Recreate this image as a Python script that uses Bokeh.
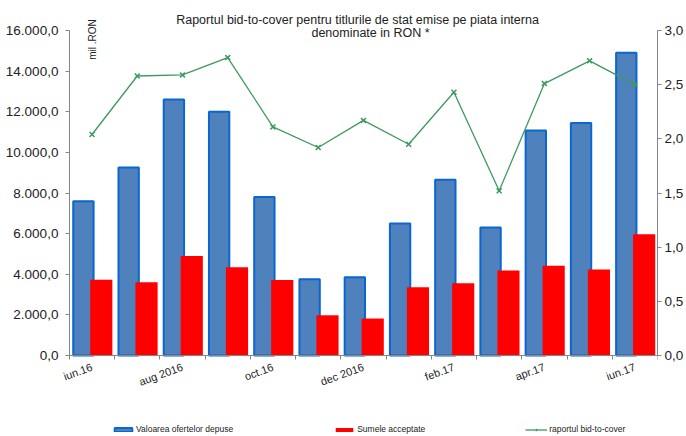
import math
from bokeh.plotting import figure
from bokeh.models import (ColumnDataSource, Range1d, LinearAxis, FixedTicker,
                          Label, Legend, LegendItem)
from bokeh.transform import dodge
from bokeh.embed import file_html
from bokeh.resources import INLINE

# ---- data ----
months = ["iun.16", "iul.16", "aug.16", "sep.16", "oct.16", "nov.16", "dec.16",
          "ian.17", "feb.17", "mar.17", "apr.17", "mai.17", "iun.17"]
offers = [7600, 9250, 12600, 12000, 7800, 3750, 3850,
          6500, 8650, 6300, 11080, 11450, 14900]
accepted = [3730, 3600, 4900, 4350, 3720, 1980, 1820,
            3360, 3560, 4180, 4420, 4230, 5970]
ratio = [2.04, 2.58, 2.59, 2.75, 2.11, 1.92, 2.17,
         1.95, 2.43, 1.52, 2.51, 2.72, 2.50]

x_tick_pos = [0, 2, 4, 6, 8, 10, 12]
x_tick_labels = ["iun.16", "aug 2016", "oct.16", "dec 2016", "feb.17", "apr.17", "iun.17"]
y_ticks = [0, 2000, 4000, 6000, 8000, 10000, 12000, 14000, 16000]
y_tick_labels = ["0,0", "2.000,0", "4.000,0", "6.000,0", "8.000,0", "10.000,0",
                 "12.000,0", "14.000,0", "16.000,0"]
r_ticks = [0, 0.5, 1.0, 1.5, 2.0, 2.5, 3.0]
r_tick_labels = ["0,0", "0,5", "1,0", "1,5", "2,0", "2,5", "3,0"]

title_lines = ["Raportul bid-to-cover pentru titlurile de stat emise pe piata interna",
               "denominate in RON *"]
unit_label = "mil .RON"
legend_labels = ["Valoarea ofertelor depuse", "Sumele acceptate", "raportul bid-to-cover"]

FONT = "Liberation Sans"
AXIS_COLOR = "#868686"
TEXT_COLOR = "#222222"
GREEN = "#3C9A5F"

idx = list(range(len(months)))
source = ColumnDataSource(dict(x=idx, month=months, offers=offers,
                               accepted=accepted, ratio=ratio))

p = figure(width=686, height=436, output_backend="svg", toolbar_location=None,
           x_range=Range1d(-2.0229, len(months) - 0.5),
           y_range=Range1d(-3988, 17428),
           min_border_left=0, min_border_right=28, min_border_top=1,
           min_border_bottom=0, outline_line_color=None,
           background_fill_color="white", border_fill_color="white")
p.extra_y_ranges = {"ratio": Range1d(-0.7477, 3.2677)}
p.xgrid.visible = False
p.ygrid.visible = False

r_blue = p.vbar(x=dodge("x", -0.19), top="offers", width=0.45, source=source,
                fill_color="#4F81BD", line_color="#0A66D0", line_width=2)
r_red = p.vbar(x=dodge("x", 0.205), top="accepted", width=0.49, source=source,
               fill_color="#FF0000", line_color=None)
r_line = p.line("x", "ratio", source=source, y_range_name="ratio",
                line_color=GREEN, line_width=1.3)
r_pts = p.scatter("x", "ratio", source=source, y_range_name="ratio",
                  marker="x", size=7, line_color=GREEN, line_width=1.5)

# x axis, drawn at value 0
xa = p.xaxis[0]
xa.fixed_location = 0
xa.bounds = (-0.5, len(months) - 0.5)
xa.ticker = FixedTicker(ticks=x_tick_pos, minor_ticks=[i - 0.5 for i in range(len(months) + 1)])
xa.major_label_overrides = {t: l for t, l in zip(x_tick_pos, x_tick_labels)}
xa.major_label_orientation = math.radians(20)
xa.major_tick_out = 0
xa.major_tick_in = 0
xa.minor_tick_out = 4
xa.minor_tick_in = 0
xa.minor_tick_line_color = AXIS_COLOR
xa.axis_line_color = AXIS_COLOR
xa.major_label_text_font = FONT
xa.major_label_text_font_size = "11px"
xa.major_label_text_color = TEXT_COLOR
xa.major_label_standoff = 7

# left axis, drawn at the left edge of the first category
ya = p.yaxis[0]
ya.fixed_location = -0.5
ya.ticker = FixedTicker(ticks=y_ticks)
ya.major_label_overrides = {t: l for t, l in zip(y_ticks, y_tick_labels)}
ya.bounds = (0, 16000)

# right axis
ra = LinearAxis(y_range_name="ratio", ticker=FixedTicker(ticks=r_ticks))
ra.major_label_overrides = {t: l for t, l in zip(r_ticks, r_tick_labels)}
ra.bounds = (0, 3)
p.add_layout(ra, "right")

for ax in (ya, ra):
    ax.axis_line_color = AXIS_COLOR
    ax.major_tick_line_color = AXIS_COLOR
    ax.major_tick_out = 4
    ax.major_tick_in = 0
    ax.minor_tick_line_color = None
    ax.major_label_text_font = FONT
    ax.major_label_text_font_size = "13.5px"
    ax.major_label_text_color = TEXT_COLOR
ya.major_label_standoff = 7
ra.major_label_standoff = 3

# title lines and unit label (screen units relative to the plot frame bottom-left)
p.add_layout(Label(x=357, y=417, x_units="screen", y_units="screen", text=title_lines[0],
                   text_align="center", text_baseline="middle", text_font=FONT,
                   text_font_size="12.5px", text_color=TEXT_COLOR))
p.add_layout(Label(x=370, y=404, x_units="screen", y_units="screen", text=title_lines[1],
                   text_align="center", text_baseline="middle", text_font=FONT,
                   text_font_size="12.5px", text_color=TEXT_COLOR))
p.add_layout(Label(x=92, y=397, x_units="screen", y_units="screen", text=unit_label,
                   angle=math.pi / 2, text_align="center", text_baseline="middle",
                   text_font=FONT, text_font_size="10px", text_color=TEXT_COLOR))

legend = Legend(items=[LegendItem(label=legend_labels[0], renderers=[r_blue]),
                       LegendItem(label=legend_labels[1], renderers=[r_red]),
                       LegendItem(label=legend_labels[2], renderers=[r_line, r_pts])],
                orientation="horizontal", location=(112, 2), spacing=100,
                glyph_width=22, glyph_height=5, label_height=10, label_standoff=2,
                padding=0, margin=0, border_line_color=None, background_fill_alpha=0,
                label_text_font=FONT, label_text_font_size="8.5px",
                label_text_color=TEXT_COLOR)
p.add_layout(legend, "center")

open("out.html", "w").write(file_html(p, INLINE))
